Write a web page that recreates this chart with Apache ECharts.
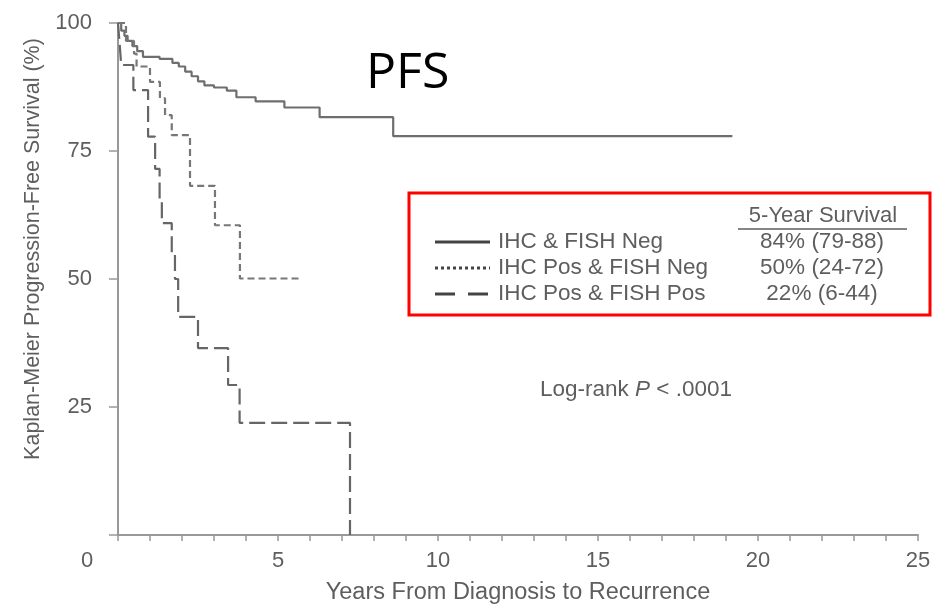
<!DOCTYPE html>
<html>
<head>
<meta charset="utf-8">
<script src="https://cdn.jsdelivr.net/npm/echarts@6/dist/echarts.min.js"></script>
<style>
html,body{margin:0;padding:0;background:#fff;}
#chart{width:938px;height:605px;}
</style>
</head>
<body>
<div id="chart"></div>
<script>
// Kaplan-Meier steps: [year, survival %] (value after the event at that year)
const ihcFishNeg = [[0,100],[0.1,98.5],[0.2,97.5],[0.3,96.5],[0.45,95.5],[0.6,94.5],[0.78,93.4],[1.3,93.0],[1.7,92.2],[1.9,91.5],[2.1,90.5],[2.3,89.6],[2.5,88.6],[2.7,87.8],[3.0,87.4],[3.4,86.8],[3.7,85.5],[4.3,84.7],[5.2,83.5],[6.3,81.6],[8.6,77.9],[19.2,77.9]];
const ihcPosFishNeg = [[0,100],[0.25,96.5],[0.5,94],[0.58,91.5],[1.0,88.5],[1.31,85.3],[1.47,82],[1.68,78.1],[2.25,68.2],[3.03,60.5],[3.81,50.1],[5.69,50.1]];
const ihcPosFishPos = [[0,100],[0.05,96],[0.1,91.8],[0.48,86.9],[0.94,77.8],[1.16,71.5],[1.3,65],[1.37,60.9],[1.68,55],[1.78,50],[1.88,42.6],[2.5,36.5],[3.44,29.3],[3.8,21.9],[7.25,0]];
const seriesNames = ['IHC & FISH Neg','IHC Pos & FISH Neg','IHC Pos & FISH Pos'];
const fiveYear = ['84% (79-88)','50% (24-72)','22% (6-44)'];
const yTicks = [0,25,50,75,100];
const xTicks = [0,5,10,15,20,25];

const F = '"Liberation Sans", Arial, sans-serif';
const grey = '#5e5e5e';
const chart = echarts.init(document.getElementById('chart'));

const legendRows = [242, 268, 294];
const graphics = [
  {type:'text', left:366, top:49, style:{text:'PFS', font:'50px "Open Sans", sans-serif', fill:'#000'}},
  {type:'rect', shape:{x:409, y:193, width:521, height:122}, style:{fill:'none', stroke:'#ff0000', lineWidth:3}},
  {type:'text', x:823, y:216, style:{text:'5-Year Survival', font:'22px '+F, fill:grey, textAlign:'center', textVerticalAlign:'middle'}},
  {type:'line', shape:{x1:738, y1:229, x2:907, y2:229}, style:{stroke:grey, lineWidth:1.5}},
  {type:'line', shape:{x1:435, y1:legendRows[0], x2:490, y2:legendRows[0]}, style:{stroke:'#444', lineWidth:3}},
  {type:'line', shape:{x1:435, y1:legendRows[1], x2:490, y2:legendRows[1]}, style:{stroke:'#444', lineWidth:3, lineDash:[3,3]}},
  {type:'line', shape:{x1:435, y1:legendRows[2], x2:490, y2:legendRows[2]}, style:{stroke:'#444', lineWidth:3, lineDash:[20,13]}},
  {type:'text', x:636, y:390, style:{text:'Log-rank {i|P} < .0001', font:'22.5px '+F, fill:grey, textAlign:'center', textVerticalAlign:'middle', rich:{i:{fontStyle:'italic', fontSize:22.5, fontFamily:F, fill:grey}}}}
];
seriesNames.forEach((n,i)=>{
  graphics.push({type:'text', x:498, y:legendRows[i], style:{text:n, font:'22.5px '+F, fill:grey, textVerticalAlign:'middle'}});
  graphics.push({type:'text', x:822, y:legendRows[i], style:{text:fiveYear[i], font:'22.5px '+F, fill:grey, textAlign:'center', textVerticalAlign:'middle'}});
});

chart.setOption({
  animation:false,
  backgroundColor:'#fff',
  grid:{left:118, right:20, top:23, bottom:70, containLabel:false, outerBoundsMode:'none'},
  xAxis:{
    type:'value', min:xTicks[0], max:xTicks[xTicks.length-1], interval:5,
    axisLine:{show:true, lineStyle:{color:'#999', width:2}},
    axisTick:{show:true, length:6, lineStyle:{color:'#999', width:1.5}},
    minorTick:{show:true, splitNumber:5, length:6, lineStyle:{color:'#999', width:1.5}},
    splitLine:{show:false},
    axisLabel:{margin:15, color:grey, fontFamily:F, fontSize:22,
      formatter:v=> v===0 ? '{z|0}' : String(v),
      rich:{z:{padding:[0,62,0,0], color:grey, fontFamily:F, fontSize:22}}},
    name:'Years From Diagnosis to Recurrence', nameLocation:'middle', nameGap:46,
    nameTextStyle:{color:grey, fontFamily:F, fontSize:23.5}
  },
  yAxis:{
    type:'value', min:yTicks[0], max:yTicks[yTicks.length-1], interval:25,
    axisLine:{show:true, lineStyle:{color:'#999', width:2}},
    axisTick:{show:true, length:9, lineStyle:{color:'#999', width:1.5}},
    splitLine:{show:false},
    axisLabel:{margin:26, color:grey, fontFamily:F, fontSize:22, formatter:v=> v===0 ? '' : String(v)},
    name:'Kaplan-Meier Progression-Free Survival (%)', nameLocation:'middle', nameGap:74, nameRotate:90,
    nameTextStyle:{color:grey, fontFamily:F, fontSize:21.5, padding:[0,0,0,60]}
  },
  series:[
    {name:seriesNames[0], type:'line', step:'end', data:ihcFishNeg, showSymbol:false, lineStyle:{color:'#6e6e6e', width:2.2}},
    {name:seriesNames[1], type:'line', step:'end', data:ihcPosFishNeg, showSymbol:false, lineStyle:{color:'#777', width:2.2, type:[7,4]}},
    {name:seriesNames[2], type:'line', step:'end', data:ihcPosFishPos, showSymbol:false, lineStyle:{color:'#666', width:2.2, type:[16,6]}}
  ],
  graphic:graphics
});
</script>
</body>
</html>
